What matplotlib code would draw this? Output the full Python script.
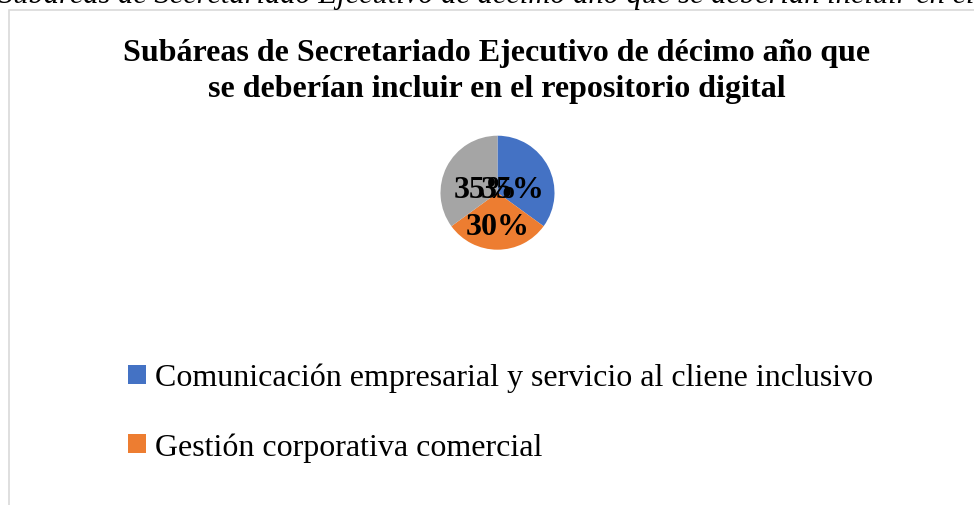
import matplotlib.pyplot as plt
from matplotlib.patches import Rectangle, Patch

# datos
categorias = ['Comunicación empresarial y servicio al cliene inclusivo',
              'Gestión corporativa comercial',
              'Otras']
porcentajes = [35, 30, 35]
colores = ['#4472C4', '#ED7D31', '#A5A5A5']

titulo = 'Subáreas de Secretariado Ejecutivo de décimo año que\nse deberían incluir en el repositorio digital'
leyenda_arriba = 'Subáreas de Secretariado Ejecutivo de décimo año que se deberían incluir en el repositorio digital'

# posiciones de las etiquetas (radio = 1)
pos_etiquetas = [(0.27, 0.05), (0.0, -0.59), (-0.2, 0.05)]

plt.rcParams['font.family'] = ['Liberation Serif', 'DejaVu Serif']

W, H = 974, 506
fig = plt.figure(figsize=(W / 100, H / 100), dpi=100)

# texto cortado arriba (pie de figura del documento)
fig.text(-2 / W, 1 - 3 / H, leyenda_arriba, fontsize=22, style='italic',
         ha='left', va='baseline')

# borde del gráfico
fig.patches.append(Rectangle((9 / W, -0.1), 1.2, 1.1 - 11 / H,
                             transform=fig.transFigure, fill=False,
                             edgecolor='#d9d9d9', linewidth=1.2))

fig.text(497 / W, 1 - 97 / H, titulo, fontsize=23, fontweight='bold',
         ha='center', va='baseline', linespacing=1.33, multialignment='center')

# pastel
cx, cy, r = 497.5, 193.7, 57
ax = fig.add_axes([(cx - r) / W, (H - cy - r) / H, 2 * r / W, 2 * r / H])
wedges, textos, autotextos = ax.pie(porcentajes, colors=colores, startangle=90,
                                    counterclock=False, radius=1,
                                    autopct='%.0f%%',
                                    textprops=dict(fontsize=23, fontweight='bold'))
for t, p in zip(autotextos, pos_etiquetas):
    t.set_position(p)
    t.set_ha('center')
    t.set_va('center')
ax.set_xlim(-1, 1)
ax.set_ylim(-1, 1)
ax.set_aspect('auto')
ax.axis('off')

# leyenda (solo se ven las dos primeras)
handles = [Patch(facecolor=c, edgecolor='none') for c in colores[:2]]
fig.legend(handles, categorias[:2], loc='upper left',
           bbox_to_anchor=(128 / W, 1 - 364 / H), frameon=False,
           fontsize=23, handlelength=0.55, handleheight=0.55,
           handletextpad=0.3, labelspacing=1.25, borderpad=0, borderaxespad=0)

fig.savefig('out.png', dpi=100)
